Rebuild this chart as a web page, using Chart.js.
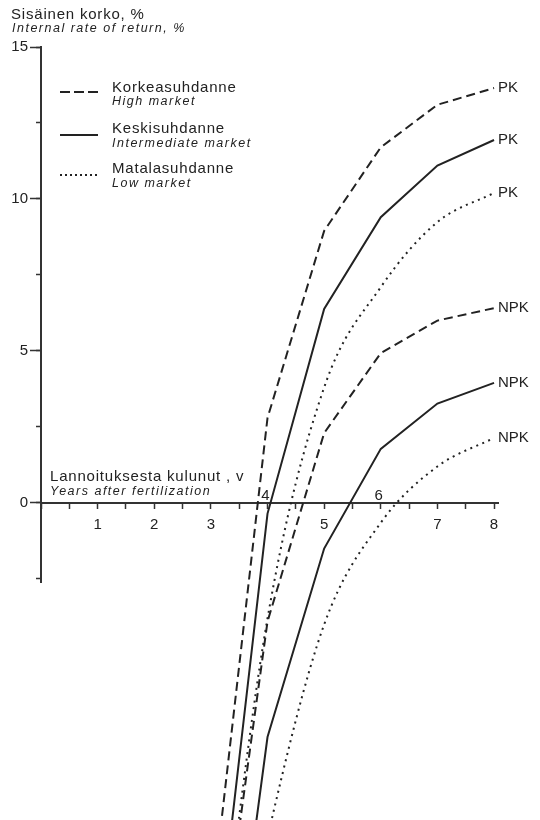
<!DOCTYPE html>
<html>
<head>
<meta charset="utf-8">
<script src="https://cdn.jsdelivr.net/npm/chart.js@4.4.1/dist/chart.umd.min.js"></script>
<style>
  html, body { margin: 0; padding: 0; background: #fff; }
  #wrap { position: relative; width: 540px; height: 820px; overflow: hidden;
          font-family: "Liberation Sans", Arial, sans-serif; color: #222; }
  #chart { position: absolute; left: 0; top: 0; }
  .t { position: absolute; white-space: nowrap; line-height: 1; }
  .fi { font-size: 15px; letter-spacing: 0.8px; }
  .en { font-size: 12.5px; font-style: italic; letter-spacing: 1.5px; }
  .key { position: absolute; left: 60px; width: 38px; height: 4px; }
</style>
</head>
<body>
<div id="wrap">
  <canvas id="chart" width="540" height="820"></canvas>

  <!-- y axis title -->
  <div class="t fi" style="left:11px; top:6px;">Sisäinen korko, %</div>
  <div class="t en" style="left:12px; top:22px;">Internal rate of return, %</div>

  <!-- legend -->
  <svg class="key" style="top:90px;" viewBox="0 0 38 4"><line x1="0" y1="2" x2="38" y2="2" stroke="#222" stroke-width="2" stroke-dasharray="10 4"/></svg>
  <div class="t fi" style="left:112px; top:79px;">Korkeasuhdanne</div>
  <div class="t en" style="left:112px; top:95px;">High market</div>

  <svg class="key" style="top:133px;" viewBox="0 0 38 4"><line x1="0" y1="2" x2="38" y2="2" stroke="#222" stroke-width="2"/></svg>
  <div class="t fi" style="left:112px; top:120px;">Keskisuhdanne</div>
  <div class="t en" style="left:112px; top:137px;">Intermediate market</div>

  <svg class="key" style="top:173px;" viewBox="0 0 38 4"><line x1="0" y1="2" x2="38" y2="2" stroke="#222" stroke-width="2" stroke-dasharray="2 3"/></svg>
  <div class="t fi" style="left:112px; top:160px;">Matalasuhdanne</div>
  <div class="t en" style="left:112px; top:177px;">Low market</div>

  <!-- x axis title -->
  <div class="t fi" style="left:50px; top:468px;">Lannoituksesta kulunut , v</div>
  <div class="t en" style="left:50px; top:485px;">Years after fertilization</div>
</div>

<script>
// --------------------------- Datos ---------------------------
const years = [3, 4, 5, 6, 7, 8];

// sisäinen korko % (internal rate of return)
const highPK  = [-13.5,  2.8,  8.95, 11.7,  13.1, 13.65];
const midPK   = [-16.5, -0.35, 6.38,  9.4,  11.1, 11.94];
const lowPK   = [-17.6, -3.8,  3.8,   7.1,  9.24, 10.2];
const highNPK = [-17.5, -3.9,  2.3,   4.93, 6.0,  6.41];
const midNPK  = [-21.7, -7.7, -1.5,   1.78, 3.27, 3.95];
const lowNPK  = [-20.0, -11.0, -4.0, -0.65, 1.2,  2.14];

const endLabels = ['PK', 'PK', 'PK', 'NPK', 'NPK', 'NPK'];
const xTickLabels = [1, 2, 3, 5, 7, 8];   // below the axis
const xTickLabelsAbove = [4, 6];          // above the axis (lines cross there)
const yTickLabels = [0, 5, 10, 15];

const FONT = '"Liberation Sans", Arial, sans-serif';
const INK = '#222';

const toPoints = (vals) => years.map((x, i) => ({ x, y: vals[i] }));

const DASHED = [9, 5];
const DOTTED = [2, 4.5];

function series(vals, label, dash, smooth) {
  return {
    data: toPoints(vals),
    endLabel: label,
    borderColor: INK,
    borderWidth: 2,
    borderDash: dash,
    pointRadius: 0,
    tension: 0,
    cubicInterpolationMode: smooth ? 'monotone' : 'default',
    clip: false
  };
}

// --------------------------- Etiquetas extra ---------------------------
const extraText = {
  id: 'extraText',
  afterDatasetsDraw(chart) {
    const { ctx } = chart;
    const x = chart.scales.x, y = chart.scales.y;
    ctx.save();
    ctx.fillStyle = INK;
    ctx.font = '15px ' + FONT;
    ctx.textAlign = 'left';
    ctx.textBaseline = 'middle';
    chart.data.datasets.forEach(ds => {
      const last = ds.data[ds.data.length - 1];
      ctx.fillText(ds.endLabel, x.getPixelForValue(last.x) + 4, y.getPixelForValue(last.y));
    });
    ctx.font = '15px ' + FONT;
    ctx.textAlign = 'center';
    ctx.textBaseline = 'alphabetic';
    xTickLabelsAbove.forEach(v => {
      ctx.fillText(String(v), x.getPixelForValue(v) - 2, y.getPixelForValue(0) - 3);
    });
    ctx.restore();
  }
};

const axisBorder = { color: '#333', width: 2 };

new Chart(document.getElementById('chart'), {
  type: 'line',
  data: {
    datasets: [
      series(highPK, endLabels[0], DASHED, false),
      series(midPK, endLabels[1], [], false),
      series(lowPK, endLabels[2], DOTTED, true),
      series(highNPK, endLabels[3], DASHED, false),
      series(midNPK, endLabels[4], [], false),
      series(lowNPK, endLabels[5], DOTTED, true)
    ]
  },
  options: {
    responsive: false,
    animation: false,
    layout: { padding: { left: 0, right: 42, top: 47, bottom: 238 } },
    plugins: { legend: { display: false }, tooltip: { enabled: false } },
    scales: {
      x: {
        type: 'linear',
        min: 0,
        max: 8.07,
        position: { y: 0 },
        afterFit: s => { s.height = 0; },
        border: axisBorder,
        grid: { drawOnChartArea: false, tickLength: 5, tickColor: '#333', tickWidth: 1.5 },
        ticks: {
          stepSize: 0.5,
          includeBounds: false,
          autoSkip: false,
          maxRotation: 0,
          padding: 8,
          color: INK,
          font: { family: FONT, size: 15 },
          callback: v => xTickLabels.includes(v) ? String(v) : ''
        }
      },
      y: {
        type: 'linear',
        min: -2.6,
        max: 15,
        position: 'left',
        weight: 1,
        afterFit: s => { s.width = 41; },
        border: axisBorder,
        grid: { drawOnChartArea: false, tickLength: 11, tickColor: '#333', tickWidth: 1.5 },
        ticks: {
          stepSize: 5,
          includeBounds: false,
          padding: 2,
          color: INK,
          font: { family: FONT, size: 15 },
          callback: v => yTickLabels.includes(v) ? String(v) : ''
        }
      },
      yMinor: {
        type: 'linear',
        min: -2.6,
        max: 15,
        position: 'left',
        weight: 0,
        afterFit: s => { s.width = 0; },
        border: axisBorder,
        grid: { drawOnChartArea: false, tickLength: 5, tickColor: '#333', tickWidth: 1.5 },
        ticks: { display: false, stepSize: 2.5, includeBounds: false }
      }
    }
  },
  plugins: [extraText]
});
</script>
</body>
</html>
